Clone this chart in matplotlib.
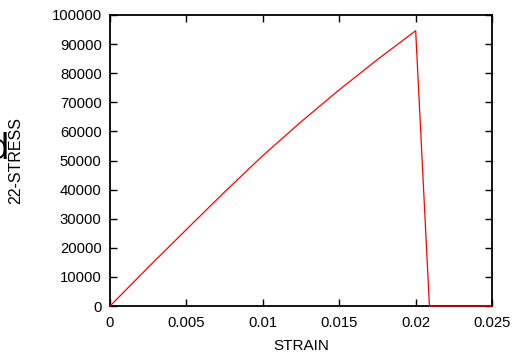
import matplotlib
matplotlib.use("Agg")
import matplotlib.pyplot as plt

plt.rcParams['font.family'] = ['Liberation Sans', 'DejaVu Sans']

# strain / stress
strain = [0, 0.0025, 0.005, 0.0075, 0.01, 0.0125, 0.015, 0.0175, 0.02, 0.0209, 0.025]
stress = [0, 13300, 26300, 39200, 51700, 63300, 74300, 84700, 94600, 0, 0]

xticks = [0, 0.005, 0.01, 0.015, 0.02, 0.025]
xlabels = ['0', '0.005', '0.01', '0.015', '0.02', '0.025']
yticks = list(range(0, 100001, 10000))

fig = plt.figure(figsize=(5.17, 3.56), dpi=100)
ax = fig.add_axes([0.2128, 0.1404, 0.739, 0.8175])

ax.plot(strain, stress, color='red', lw=0.9, clip_on=False, zorder=3)

ax.set_xlim(0, 0.025)
ax.set_ylim(0, 100000)
ax.set_xticks(xticks)
ax.set_xticklabels(xlabels)
ax.set_yticks(yticks)
ax.set_yticklabels([str(v) for v in yticks])

ax.tick_params(direction='in', top=True, right=True, length=5, width=1,
               labelsize=10.7)
ax.tick_params(axis='x', pad=7)
ax.tick_params(axis='y', pad=6)
for s in ax.spines.values():
    s.set_linewidth(1.3)

ax.set_xlabel('STRAIN', fontsize=11)
ax.xaxis.set_label_coords(0.5, -0.113)
ax.set_ylabel('22-STRESS', fontsize=11.5)
ax.yaxis.set_label_coords(-0.226, 0.5)

# clipped panel letter at the left edge
fig.text(8 / 517, 1 - 159 / 356, 'd', fontsize=26, ha='right', va='baseline')

fig.savefig('out.png', dpi=100)
